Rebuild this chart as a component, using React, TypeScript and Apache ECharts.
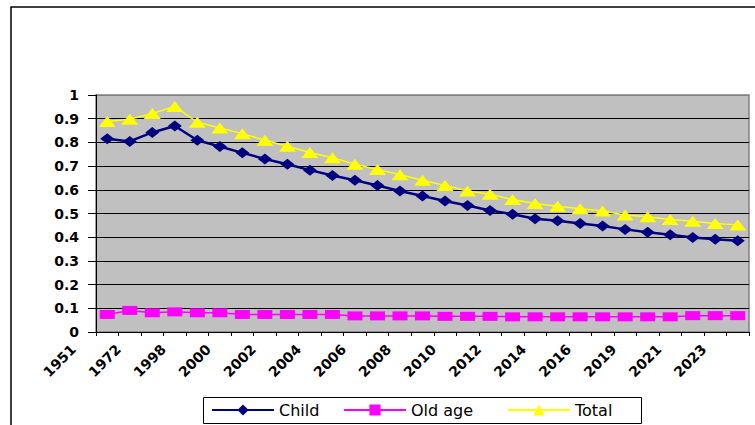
import React, { useEffect, useRef } from "react";
import * as echarts from "echarts";

const years = [
  "1951", "1961", "1972", "1991", "1998", "1999", "2000", "2001", "2002", "2003",
  "2004", "2005", "2006", "2007", "2008", "2009", "2010", "2011", "2012", "2013",
  "2014", "2015", "2016", "2018", "2019", "2020", "2021", "2022", "2023",
];

const child = [
  0.815, 0.804, 0.842, 0.869, 0.809, 0.783, 0.756, 0.73, 0.708, 0.683,
  0.66, 0.64, 0.618, 0.595, 0.574, 0.553, 0.534, 0.513, 0.497, 0.478,
  0.469, 0.458, 0.447, 0.433, 0.421, 0.41, 0.399, 0.391, 0.385,
];

const oldAge = [
  0.074, 0.091, 0.081, 0.085, 0.081, 0.081, 0.074, 0.074, 0.074, 0.074,
  0.074, 0.068, 0.068, 0.068, 0.068, 0.066, 0.066, 0.066, 0.064, 0.064,
  0.064, 0.064, 0.064, 0.064, 0.064, 0.064, 0.069, 0.069, 0.069,
];

const total = [
  0.888, 0.898, 0.922, 0.952, 0.885, 0.861, 0.837, 0.809, 0.784, 0.757,
  0.735, 0.708, 0.686, 0.664, 0.64, 0.618, 0.595, 0.581, 0.559, 0.542,
  0.531, 0.52, 0.511, 0.494, 0.486, 0.475, 0.467, 0.458, 0.452,
];

const seriesNames = ["Child", "Old age", "Total"];
const yMin = 0;
const yMax = 1;
const yStep = 0.1;

export default function App() {
  const ref = useRef<HTMLDivElement>(null);

  useEffect(() => {
    if (!ref.current) return;
    const chart = echarts.init(ref.current, null, { renderer: "svg" });
    const font = "DejaVu Sans";
    const splitColors = [
      "#000", "#000", "#000", "#000", "#000", "#000", "#000", "#000", "#000", "#000", "#808080",
    ];
    const legendCommon = {
      top: 402,
      itemWidth: 62,
      itemHeight: 14,
      padding: 0,
      textStyle: { fontFamily: font, fontSize: 16, color: "#000" },
    };
    chart.setOption({
      animation: false,
      backgroundColor: "#fff",
      textStyle: { fontFamily: font, color: "#000" },
      graphic: [
        {
          type: "rect",
          shape: { x: 11, y: 7, width: 800, height: 500 },
          style: { fill: "none", stroke: "#000", lineWidth: 1.5 },
          silent: true,
        },
        {
          type: "rect",
          shape: { x: 203.5, y: 397.5, width: 438, height: 26 },
          style: { fill: "#fff", stroke: "#000", lineWidth: 1 },
          silent: true,
        },
      ],
      legend: [
        { ...legendCommon, left: 211, data: [seriesNames[0]] },
        { ...legendCommon, left: 343, data: [seriesNames[1]] },
        { ...legendCommon, left: 507, data: [seriesNames[2]] },
      ],
      grid: {
        left: 96,
        right: 6,
        top: 95,
        bottom: 93,
        show: true,
        backgroundColor: "#C0C0C0",
        borderColor: "#808080",
        borderWidth: 1.5,
      },
      xAxis: {
        type: "category",
        data: years,
        boundaryGap: true,
        axisLine: { lineStyle: { color: "#000", width: 1 } },
        axisTick: { show: true, interval: 0, length: 4, lineStyle: { color: "#000" } },
        axisLabel: {
          interval: 1,
          rotate: 45,
          margin: -19,
          padding: [0, 48, 0, 0],
          fontFamily: font,
          fontSize: 14,
          fontWeight: "bold",
          color: "#000",
        },
        splitLine: { show: false },
      },
      yAxis: {
        type: "value",
        min: yMin,
        max: yMax,
        interval: yStep,
        axisLine: { show: true, lineStyle: { color: "#000", width: 1 } },
        axisTick: { show: true, length: 8, lineStyle: { color: "#000" } },
        axisLabel: { margin: 17, fontFamily: font, fontSize: 14, fontWeight: "bold", color: "#000" },
        splitLine: { show: true, lineStyle: { color: splitColors, width: 1 } },
      },
      series: [
        {
          name: seriesNames[0],
          type: "line",
          data: child,
          symbol: "diamond",
          symbolSize: [14, 11],
          lineStyle: { color: "#000080", width: 2.5 },
          itemStyle: { color: "#000080" },
        },
        {
          name: seriesNames[1],
          type: "line",
          data: oldAge,
          symbol: "rect",
          symbolSize: [15, 9],
          lineStyle: { color: "#FF00FF", width: 1.5 },
          itemStyle: { color: "#FF00FF" },
        },
        {
          name: seriesNames[2],
          type: "line",
          data: total,
          symbol: "triangle",
          symbolSize: [17, 11],
          lineStyle: { color: "#FFFF00", width: 1.5 },
          itemStyle: { color: "#FFFF00" },
        },
      ],
    });
    return () => chart.dispose();
  }, []);

  return (
    <div
      ref={ref}
      style={{ position: "absolute", left: 0, top: 0, width: 755, height: 425 }}
    />
  );
}
